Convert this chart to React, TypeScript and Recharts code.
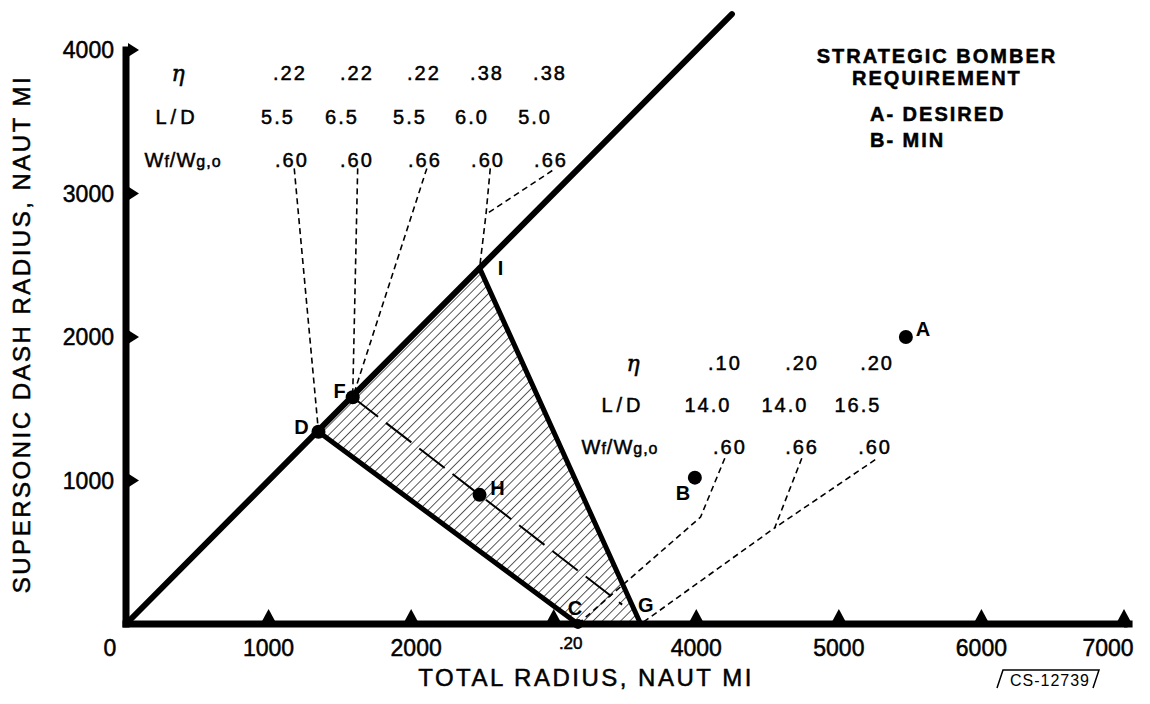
import { ScatterChart, Scatter, XAxis, YAxis, ReferenceLine } from 'recharts';

const FONT = '"Liberation Sans", Arial, sans-serif';

// axes
const xTicks = [0, 1000, 2000, 3000, 4000, 5000, 6000, 7000];
const xTickLabels = ['0', '1000', '2000', '.20', '4000', '5000', '6000', '7000'];
const yTicks = [1000, 2000, 3000, 4000];

// named points (total radius, supersonic dash radius), naut mi
const pointNames = ['D', 'F', 'I', 'H', 'C', 'G', 'A', 'B'];
const pointX = [1350, 1590, 2480, 2480, 3170, 3610, 5470, 3990];
const pointY = [1340, 1580, 2480, 900, 0, 0, 2000, 1020];
const dotNames = ['D', 'F', 'H', 'C', 'A', 'B'];

const P: Record<string, { x: number; y: number; name: string }> = {};
pointNames.forEach((n, i) => (P[n] = { name: n, x: pointX[i], y: pointY[i] }));

// boundaries
const envelopeEnd = 4250;
const hatched = ['D', 'I', 'G', 'C'].map((n) => P[n]);
const midLine = [P.F, P.H, { x: 3480, y: 135 }];

// parameter tables
const topEta = ['.22', '.22', '.22', '.38', '.38'];
const topLD = ['5.5', '6.5', '5.5', '6.0', '5.0'];
const topWf = ['.60', '.60', '.66', '.60', '.66'];
const rightEta = ['.10', '.20', '.20'];
const rightLD = ['14.0', '14.0', '16.5'];
const rightWf = ['.60', '.66', '.60'];
const rowLabels = ['η', 'L/D', 'Wf/Wg,o'];
const requirement = ['STRATEGIC  BOMBER', 'REQUIREMENT'];
const requirementKey = ['A- DESIRED', 'B- MIN'];

// where the table text sits, in chart units
const topColX = [
  [1150, 1620, 2090, 2532, 2974],
  [1066, 1515, 1992, 2427, 2869],
  [1164, 1620, 2097, 2539, 2981],
];
const topRowY = [3840, 3533, 3233];
const topLabelX = [365, 358, 400];
const rightColX = [
  [4201, 4742, 5268],
  [4082, 4622, 5134],
  [4236, 4742, 5254],
];
const rightRowY = [1819, 1526, 1233];
const rightLabelX = [3556, 3486, 3465];

// leaders from table columns to points
const topLeaders = [
  [{ x: 1180, y: 3175 }, P.D],
  [{ x: 1625, y: 3175 }, P.F],
  [{ x: 2110, y: 3175 }, P.F],
  [{ x: 2555, y: 3175 }, { x: 2525, y: 2855 }, P.I],
  [{ x: 2990, y: 3160 }, { x: 2525, y: 2855 }],
];
const rightLeaders = [
  [{ x: 4200, y: 1155 }, { x: 4030, y: 745 }, P.C],
  [{ x: 4740, y: 1155 }, { x: 4550, y: 670 }, P.G],
  [{ x: 5255, y: 1145 }, { x: 4550, y: 670 }],
];

const letterOffset: Record<string, [number, number]> = {
  D: [-17, -5], F: [-13, -6], I: [21, 0], H: [18, -7],
  C: [-3, -16], G: [5, -19], A: [17, -8], B: [-12, 15],
};

type Note = { x: number; y: number; text: string; kind: string };

const tableNotes = (vals: string[][], colX: number[][], rowY: number[], labelX: number[]): Note[] => {
  const out: Note[] = [];
  rowLabels.forEach((t, r) => out.push({ x: labelX[r], y: rowY[r], text: t, kind: r === 0 ? 'eta' : 'row' }));
  vals.forEach((row, r) => row.forEach((t, c) => out.push({ x: colX[r][c], y: rowY[r], text: t, kind: 'value' })));
  return out;
};

const notes: Note[] = [
  ...tableNotes([topEta, topLD, topWf], topColX, topRowY, topLabelX),
  ...tableNotes([rightEta, rightLD, rightWf], rightColX, rightRowY, rightLabelX),
  { x: 5688, y: 3958, text: requirement[0], kind: 'title' },
  { x: 5688, y: 3805, text: requirement[1], kind: 'title' },
  { x: 5218, y: 3554, text: requirementKey[0], kind: 'legend' },
  { x: 5218, y: 3373, text: requirementKey[1], kind: 'legend' },
];

// a thin outline makes the lettering look closer to the inked original
const ink = { fill: '#000', stroke: '#000', strokeWidth: 0.5 };

const NoteText = (props: any) => {
  const { cx, cy, payload } = props;
  const n = payload as Note;
  if (n.kind === 'eta') {
    return (
      <text x={cx} y={cy} dy="0.35em" textAnchor="middle" fontFamily='"DejaVu Serif", serif' fontStyle="italic" fontSize={22} {...ink}>
        {n.text}
      </text>
    );
  }
  if (n.text === 'Wf/Wg,o') {
    return (
      <text x={cx} y={cy} dy="0.35em" textAnchor="middle" fontFamily={FONT} fontSize={20} letterSpacing={1} {...ink}>
        W<tspan fontSize={16}>f</tspan>/W<tspan fontSize={16}>g,o</tspan>
      </text>
    );
  }
  const heavy = n.kind === 'title' || n.kind === 'legend';
  return (
    <text
      x={cx}
      y={cy}
      dy="0.35em"
      textAnchor={n.kind === 'legend' ? 'start' : 'middle'}
      fontFamily={FONT}
      fontSize={20}
      letterSpacing={n.kind === 'row' ? 4 : 2}
      fontWeight={heavy ? 'bold' : 'normal'}
      {...ink}
    >
      {n.text}
    </text>
  );
};

const PointLabel = (props: any) => {
  const { cx, cy, payload } = props;
  const [dx, dy] = letterOffset[payload.name];
  return (
    <text x={cx + dx} y={cy + dy} dy="0.35em" textAnchor="middle" fontFamily={FONT} fontWeight="bold" fontSize={20}>
      {payload.name}
    </text>
  );
};

const Dot = (props: any) => <circle cx={props.cx} cy={props.cy} r={props.payload.name === 'C' ? 5 : 7} fill="#000" />;
const Nothing = () => <g />;

const path = (pts: { x: number; y: number }[], closed = false) =>
  pts.map((p, i) => `${i ? 'L' : 'M'}${p.x},${p.y}`).join(' ') + (closed ? ' Z' : '');

const dashedLine = (width: number, dash: string) => (p: any) => (
  <path d={path(p.points)} fill="none" stroke="#000" strokeWidth={width} strokeDasharray={dash} />
);
const hatchFill = (p: any) => <path d={path(p.points, true)} fill="url(#hatch)" stroke="none" />;

const XTick = (props: any) => {
  const { x, y, payload } = props;
  const v = payload.value;
  const label = xTickLabels[xTicks.indexOf(v)];
  const small = label === '.20';
  const dx = v === 0 || v === 7000 ? -16 : small ? 17 : v === 2000 ? 5 : 0;
  return (
    <g>
      {v > 0 && <polygon points={`${x - 7},${y - 2} ${x + 7},${y - 2} ${x},${y - 15}`} fill="#000" />}
      <text x={x + dx} y={y + (small ? 19 : 24)} dy="0.35em" textAnchor="middle" fontFamily={FONT} fontSize={small ? 17 : 23} {...ink}>
        {label}
      </text>
    </g>
  );
};

const YTick = (props: any) => {
  const { x, y, payload } = props;
  return (
    <g>
      <polygon points={`${x + 2},${y - 7} ${x + 2},${y + 7} ${x + 13},${y}`} fill="#000" />
      <text x={x - 12} y={y} dy="0.35em" textAnchor="end" fontFamily={FONT} fontSize={23} {...ink}>
        {payload.value}
      </text>
    </g>
  );
};

export default function App() {
  return (
    <div style={{ position: 'absolute', left: 0, top: 0, width: 1150, height: 704, background: '#fff' }}>
      <svg width={0} height={0} style={{ position: 'absolute' }}>
        <defs>
          <pattern id="hatch" width={6.5} height={6.5} patternUnits="userSpaceOnUse" patternTransform="rotate(45)">
            <line x1={0} y1={0} x2={0} y2={6.5} stroke="#000" strokeWidth={1.3} />
          </pattern>
        </defs>
      </svg>
      <ScatterChart width={1150} height={704} margin={{ top: 50, right: 26, bottom: 0, left: 0 }}>
        <XAxis
          type="number"
          dataKey="x"
          domain={[0, 7000]}
          ticks={xTicks}
          interval={0}
          height={80}
          tickSize={0}
          tickMargin={0}
          tickLine={false}
          axisLine={{ stroke: '#000', strokeWidth: 7, strokeLinecap: 'square' }}
          tick={<XTick />}
        />
        <YAxis
          type="number"
          dataKey="y"
          domain={[0, 4000]}
          ticks={yTicks}
          interval={0}
          width={126}
          tickSize={0}
          tickMargin={0}
          tickLine={false}
          axisLine={{ stroke: '#000', strokeWidth: 7, strokeLinecap: 'square' }}
          tick={<YTick />}
        />
        <Scatter data={hatched} shape={Nothing} line={hatchFill} isAnimationActive={false} />
        <ReferenceLine
          segment={[{ x: 0, y: 0 }, { x: envelopeEnd, y: envelopeEnd }]}
          stroke="#000"
          strokeWidth={6}
          strokeLinecap="round"
          ifOverflow="visible"
        />
        <ReferenceLine segment={[{ x: 7000, y: 0 }, { x: 7060, y: 0 }]} stroke="#000" strokeWidth={7} ifOverflow="visible" />
        <ReferenceLine segment={[P.D, P.C]} stroke="#000" strokeWidth={5} strokeLinecap="round" ifOverflow="visible" />
        <ReferenceLine segment={[P.I, P.G]} stroke="#000" strokeWidth={5} strokeLinecap="round" ifOverflow="visible" />
        <Scatter data={midLine} shape={Nothing} line={dashedLine(2, '32 10')} isAnimationActive={false} />
        {[...topLeaders, ...rightLeaders].map((pts, i) => (
          <Scatter key={i} data={pts} shape={Nothing} line={dashedLine(1.6, '6 4')} isAnimationActive={false} />
        ))}
        <Scatter data={dotNames.map((n) => P[n])} shape={Dot} isAnimationActive={false} />
        <Scatter data={pointNames.map((n) => P[n])} shape={PointLabel} isAnimationActive={false} />
        <Scatter data={notes} shape={NoteText} isAnimationActive={false} />
      </ScatterChart>
      <svg width={1150} height={704} style={{ position: 'absolute', left: 0, top: 0, pointerEvents: 'none' }}>
        <text x={586} y={678} dy="0.35em" textAnchor="middle" fontFamily={FONT} fontSize={24} letterSpacing={2.5} {...ink}>
          TOTAL RADIUS, NAUT MI
        </text>
        <text
          x={22}
          y={334}
          dy="0.35em"
          textAnchor="middle"
          fontFamily={FONT}
          fontSize={24}
          letterSpacing={2.5}
          transform="rotate(-90, 22, 334)"
          {...ink}
        >
          SUPERSONIC DASH RADIUS, NAUT MI
        </text>
        <path d="M997,688 L1003,670 L1099,670 L1093,688" fill="none" stroke="#000" strokeWidth={1.5} />
        <text x={1050} y={680} dy="0.35em" textAnchor="middle" fontFamily={FONT} fontSize={16} letterSpacing={1}>
          CS-12739
        </text>
      </svg>
    </div>
  );
}
